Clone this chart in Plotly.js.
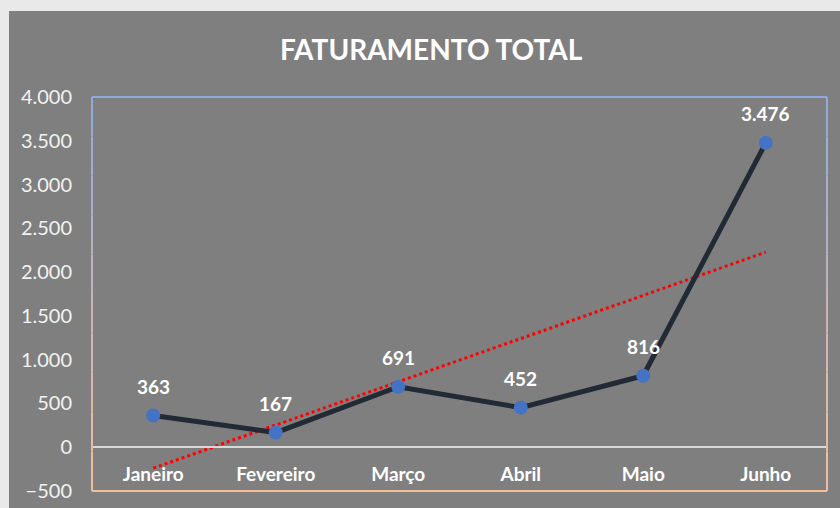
<!DOCTYPE html>
<html>
<head>
<meta charset="utf-8">
<script src="https://cdn.plot.ly/plotly-3.0.1.min.js"></script>
<style>
  html, body { margin: 0; padding: 0; background: #e9e9e9; }
  #chart { position: absolute; left: 9px; top: 11px; width: 831px; height: 497px; }
</style>
</head>
<body>
<div id="chart"></div>
<script>
var meses = ["Janeiro", "Fevereiro", "Março", "Abril", "Maio", "Junho"];
var faturamento = [363, 167, 691, 452, 816, 3476];
var yTicks = [-500, 0, 500, 1000, 1500, 2000, 2500, 3000, 3500, 4000];

// linear trendline (least squares), like Excel's "Linear" trend
var n = faturamento.length;
var sx = 0, sy = 0, sxy = 0, sxx = 0;
for (var i = 0; i < n; i++) {
    var xi = i + 1;
    sx += xi; sy += faturamento[i]; sxy += xi * faturamento[i]; sxx += xi * xi;
}
var slope = (n * sxy - sx * sy) / (n * sxx - sx * sx);
var icpt = (sy - slope * sx) / n;
var tendencia = faturamento.map(function(v, i) { return icpt + slope * (i + 1); });

var trend = {
    x: meses,
    y: tendencia,
    mode: 'lines',
    line: { color: '#ff0000', width: 3, dash: 'dot' },
    hoverinfo: 'skip',
    showlegend: false
};
var serie = {
    x: meses,
    y: faturamento,
    mode: 'lines+markers',
    line: { color: '#222a35', width: 5 },
    marker: { color: '#4472c4', size: 14 },
    showlegend: false
};

// data labels above each point
var rotulos = meses.map(function(m, i) {
    return {
        x: m, y: faturamento[i], xref: 'x', yref: 'y',
        text: faturamento[i].toLocaleString('pt-BR'),
        showarrow: false, yshift: 29,
        font: { family: 'Lato, sans-serif', size: 19, color: '#ffffff', weight: 'bold' }
    };
});

// plot border: blue on top fading to peach at the bottom
var topC = [143, 170, 220], botC = [244, 190, 150];
var shapes = [
    { type: 'line', xref: 'paper', yref: 'paper', x0: 0, x1: 1, y0: 1, y1: 1,
      line: { color: 'rgb(143,170,220)', width: 2 } },
    { type: 'line', xref: 'paper', yref: 'paper', x0: 0, x1: 1, y0: 0, y1: 0,
      line: { color: 'rgb(244,190,150)', width: 2 } }
];
var steps = 10;
for (var k = 0; k < steps; k++) {
    var t = (k + 0.5) / steps;
    var c = 'rgb(' + topC.map(function(a, j) { return Math.round(a + (botC[j] - a) * t); }).join(',') + ')';
    [0, 1].forEach(function(xp) {
        shapes.push({ type: 'line', xref: 'paper', yref: 'paper', x0: xp, x1: xp,
            y0: 1 - k / steps, y1: 1 - (k + 1) / steps, line: { color: c, width: 2 } });
    });
}

var layout = {
    width: 831,
    height: 497,
    paper_bgcolor: '#7f7f7f',
    plot_bgcolor: '#7f7f7f',
    separators: ',.',
    margin: { l: 83, r: 13, t: 86, b: 17 },
    font: { family: 'Lato, sans-serif', color: '#f2f2f2' },
    title: {
        text: 'FATURAMENTO TOTAL',
        font: { family: 'Lato, sans-serif', size: 28, color: '#ffffff', weight: 'bold' },
        x: 0.508, xanchor: 'center', y: 0.922, yanchor: 'middle'
    },
    xaxis: {
        type: 'category',
        range: [-0.5, 5.5],
        anchor: 'free',
        position: 500 / 4500,
        showline: true,
        linecolor: '#d9d9d9',
        linewidth: 2,
        showgrid: false,
        zeroline: false,
        ticks: '',
        ticklabelstandoff: 10,
        tickfont: { family: 'Lato, sans-serif', size: 19, color: '#ffffff', weight: 'bold' }
    },
    yaxis: {
        range: [-500, 4000],
        tickvals: yTicks,
        tickformat: ',d',
        showgrid: false,
        zeroline: false,
        showline: false,
        ticks: '',
        ticklabelstandoff: 19,
        tickfont: { family: 'Lato, sans-serif', size: 20, color: '#f2f2f2' }
    },
    annotations: rotulos,
    shapes: shapes
};

Plotly.newPlot('chart', [trend, serie], layout, { displayModeBar: false, staticPlot: true });
</script>
</body>
</html>
